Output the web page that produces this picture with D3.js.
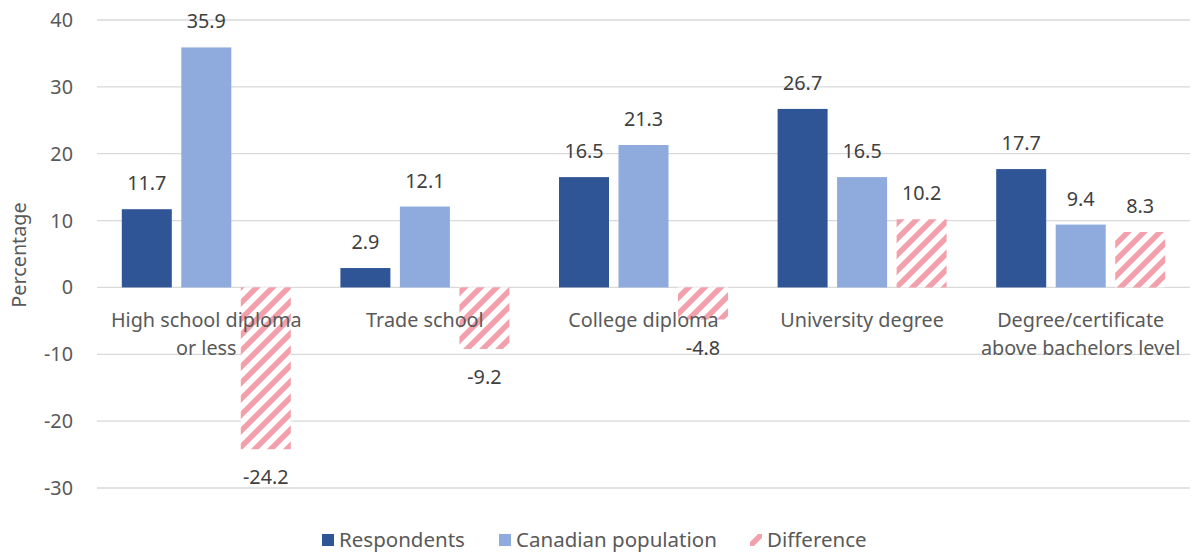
<!DOCTYPE html>
<html>
<head>
<meta charset="utf-8">
<script src="https://cdn.jsdelivr.net/npm/d3@7"></script>
<style>
  body { margin: 0; background: #fff; }
  svg { font-family: "Noto Sans", "Liberation Sans", sans-serif; }
</style>
</head>
<body>
<svg width="1192" height="552"></svg>
<script>
const categories = [
  ["High school diploma", "or less"],
  ["Trade school"],
  ["College diploma"],
  ["University degree"],
  ["Degree/certificate", "above bachelors level"]
];
const seriesNames = ["Respondents", "Canadian population", "Difference"];
const respondents = [11.7, 2.9, 16.5, 26.7, 17.7];
const canadian = [35.9, 12.1, 21.3, 16.5, 9.4];
const difference = [-24.2, -9.2, -4.8, 10.2, 8.3];
const yTicks = [-30, -20, -10, 0, 10, 20, 30, 40];

const width = 1192;
const height = 552;
const margin = {left: 97, right: 2, top: 20, bottom: 64};
const fontSize = 19.8;

const svg = d3.select("svg");

const defs = svg.append("defs");
const pat = defs.append("pattern")
  .attr("id", "hatch")
  .attr("patternUnits", "userSpaceOnUse")
  .attr("width", 16)
  .attr("height", 16);
pat.append("rect").attr("width", 16).attr("height", 16).attr("fill", "#fff");
pat.append("path")
  .attr("d", "M-4,4 l8,-8 M0,16 l16,-16 M12,20 l8,-8")
  .attr("stroke", "#F2A0AB")
  .attr("stroke-width", 5.5);

const x = d3.scaleBand()
  .domain(d3.range(categories.length))
  .range([margin.left, width - margin.right]);

const y = d3.scaleLinear()
  .domain([-30, 40])
  .range([488, 20]);

// gridlines
svg.append("g")
  .selectAll("line")
  .data(yTicks)
  .join("line")
    .attr("x1", margin.left)
    .attr("x2", width - margin.right)
    .attr("y1", d => y(d))
    .attr("y2", d => y(d))
    .attr("stroke", "#D9D9D9")
    .attr("stroke-width", 1.3);

// y tick labels
svg.append("g")
  .selectAll("text")
  .data(yTicks)
  .join("text")
    .attr("x", 73)
    .attr("y", d => y(d))
    .attr("dy", "0.35em")
    .attr("text-anchor", "end")
    .attr("fill", "#595959")
    .attr("font-size", fontSize)
    .text(d => d);

svg.append("text")
  .attr("transform", "translate(26,255) rotate(-90)")
  .attr("text-anchor", "middle")
  .attr("fill", "#595959")
  .attr("font-size", fontSize)
  .text("Percentage");

const barW = 50;
const step = 59.5;
const series = [
  {name: seriesNames[0], values: respondents, fill: "#2F5597"},
  {name: seriesNames[1], values: canadian, fill: "#8FAADC"},
  {name: seriesNames[2], values: difference, fill: "url(#hatch)"}
];

series.forEach((s, k) => {
  const g = svg.append("g");
  const cx = i => x(i) + x.bandwidth() / 2 + (k - 1) * step;
  g.selectAll("rect")
    .data(s.values)
    .join("rect")
      .attr("x", (d, i) => cx(i) - barW / 2)
      .attr("width", barW)
      .attr("y", d => y(Math.max(0, d)))
      .attr("height", d => Math.abs(y(d) - y(0)))
      .attr("fill", s.fill);
  g.selectAll("text")
    .data(s.values)
    .join("text")
      .attr("x", (d, i) => cx(i))
      .attr("y", d => d >= 0 ? y(d) - 19 : y(d) + 35)
      .attr("text-anchor", "middle")
      .attr("fill", "#404040")
      .attr("font-size", fontSize)
      .text(d => d.toFixed(1));
});

// category labels, on top of the bars
const catG = svg.append("g");
categories.forEach((lines, i) => {
  const t = catG.append("text")
    .attr("x", x(i) + x.bandwidth() / 2)
    .attr("y", 327)
    .attr("text-anchor", "middle")
    .attr("fill", "#595959")
    .attr("font-size", fontSize);
  lines.forEach((l, j) => {
    t.append("tspan")
      .attr("x", x(i) + x.bandwidth() / 2)
      .attr("dy", j === 0 ? 0 : 28)
      .text(l);
  });
});

// legend
const legX = [322, 499, 750];
const leg = svg.append("g");
series.forEach((s, k) => {
  leg.append("rect")
    .attr("x", legX[k])
    .attr("y", 534)
    .attr("width", 12)
    .attr("height", 12)
    .attr("fill", s.fill);
  leg.append("text")
    .attr("x", legX[k] + 17)
    .attr("y", 540)
    .attr("dy", "0.35em")
    .attr("fill", "#595959")
    .attr("font-size", 20.5)
    .text(s.name);
});
</script>
</body>
</html>
